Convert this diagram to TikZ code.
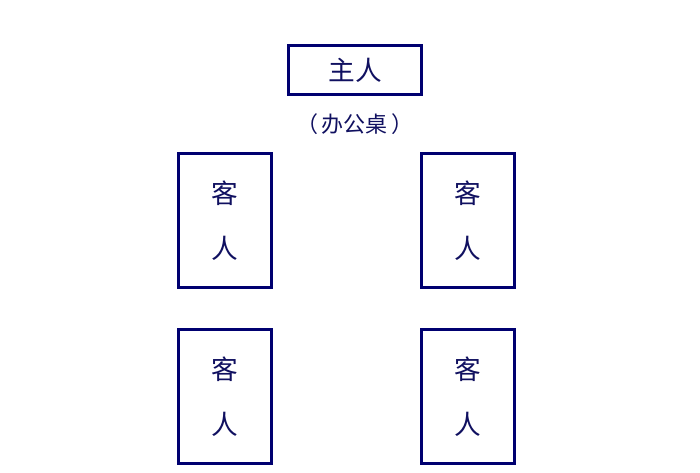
\documentclass[tikz,border=0pt]{standalone}
\usepackage{fontspec}
\newfontfamily\cjk{Noto Sans CJK SC}
\definecolor{navyline}{HTML}{000070}
\definecolor{navytext}{HTML}{101060}
\begin{document}
\begin{tikzpicture}[x=0.75pt,y=-0.75pt,
  boxstyle/.style={draw=navyline,line width=2.25pt,fill=white},
  txt/.style={text=navytext,font=\cjk\fontsize{20}{24}\selectfont,inner sep=0pt},
  lbl/.style={text=navytext,font=\cjk\fontsize{16.5}{20}\selectfont,inner sep=0pt}]
\useasboundingbox[fill=white] (0,0) rectangle (700,472);
\draw[boxstyle] (288.5,45.5) rectangle (421.5,94.5);
\node[txt] (host) at (355,70) {主人};
\node[lbl] (desk) at (355,124) {（\hspace{3pt}办公桌\hspace{3pt}）};
\foreach \n/\x/\y in {g1/178.5/153.5, g2/421.5/153.5, g3/178.5/329.5, g4/421.5/329.5}{
  \draw[boxstyle] (\x,\y) rectangle ++(93,134);
  \node[txt] (\n a) at ({\x+46.5},{\y+40}) {客};
  \node[txt] (\n b) at ({\x+46.5},{\y+95}) {人};
}
\end{tikzpicture}
\end{document}
